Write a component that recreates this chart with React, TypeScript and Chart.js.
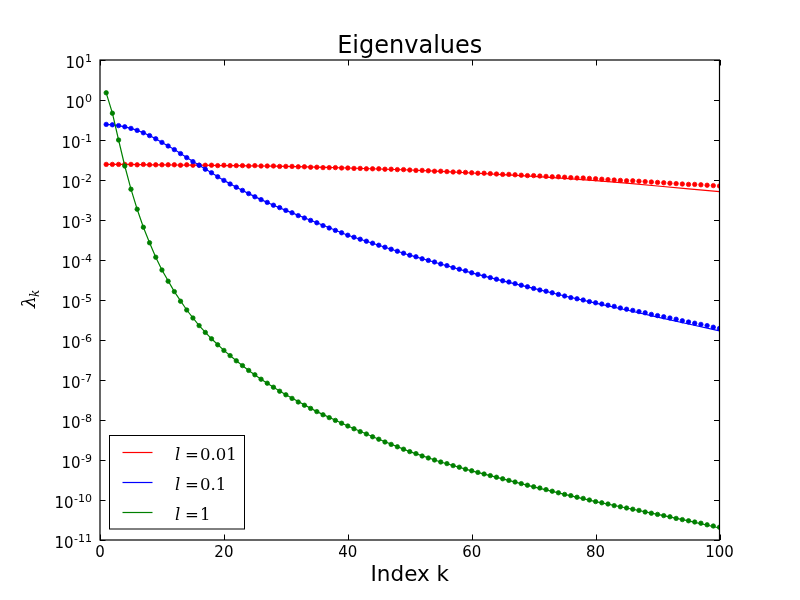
import React, { useEffect, useRef } from "react";
import { Chart, registerables } from "chart.js";

Chart.register(...registerables);

// eigenvalue index k (a dot sits on every integer k)
const K_DOTS = Array.from({ length: 100 }, (_, i) => i + 1);
const K_LINE = [
  1, 2, 3, 4, 5, 6, 7, 8, 9, 10, 12, 14, 16, 18, 20, 22, 24, 26, 28, 30, 35, 40, 45, 50, 55, 60, 65,
  70, 75, 80, 85, 90, 95, 100,
];

// log10(lambda_k), numerical eigenvalues (dots)
const RED_DOTS = [
  -1.61, -1.61, -1.61, -1.61, -1.61, -1.62, -1.61, -1.62, -1.62, -1.62,
  -1.62, -1.62, -1.63, -1.62, -1.63, -1.63, -1.63, -1.63, -1.64, -1.63,
  -1.64, -1.64, -1.64, -1.65, -1.64, -1.65, -1.65, -1.65, -1.66, -1.66,
  -1.66, -1.67, -1.67, -1.68, -1.68, -1.69, -1.69, -1.69, -1.7, -1.7,
  -1.71, -1.71, -1.72, -1.72, -1.72, -1.73, -1.73, -1.74, -1.74, -1.75,
  -1.76, -1.76, -1.77, -1.78, -1.78, -1.79, -1.8, -1.8, -1.81, -1.82,
  -1.83, -1.83, -1.84, -1.85, -1.86, -1.86, -1.87, -1.88, -1.89, -1.89,
  -1.9, -1.91, -1.92, -1.92, -1.93, -1.94, -1.95, -1.95, -1.96, -1.97,
  -1.98, -1.99, -2.0, -2.01, -2.02, -2.02, -2.03, -2.04, -2.05, -2.06,
  -2.07, -2.08, -2.09, -2.1, -2.11, -2.11, -2.12, -2.13, -2.14, -2.15,
];
const BLUE_DOTS = [
  -0.61, -0.62, -0.64, -0.67, -0.71, -0.76, -0.82, -0.89, -0.97, -1.06,
  -1.15, -1.24, -1.34, -1.44, -1.54, -1.63, -1.73, -1.82, -1.92, -2.01,
  -2.1, -2.18, -2.26, -2.34, -2.42, -2.49, -2.56, -2.63, -2.69, -2.76,
  -2.82, -2.89, -2.95, -3.01, -3.07, -3.14, -3.2, -3.26, -3.32, -3.38,
  -3.43, -3.48, -3.53, -3.58, -3.63, -3.68, -3.73, -3.78, -3.83, -3.88,
  -3.92, -3.97, -4.01, -4.05, -4.1, -4.14, -4.19, -4.23, -4.27, -4.32,
  -4.36, -4.4, -4.44, -4.48, -4.52, -4.55, -4.59, -4.63, -4.67, -4.71,
  -4.75, -4.78, -4.82, -4.86, -4.9, -4.94, -4.97, -5.0, -5.04, -5.07,
  -5.1, -5.13, -5.16, -5.2, -5.23, -5.26, -5.29, -5.32, -5.36, -5.39,
  -5.42, -5.45, -5.48, -5.52, -5.55, -5.58, -5.61, -5.64, -5.68, -5.71,
];
const GREEN_DOTS = [
  0.18, -0.33, -1.0, -1.65, -2.23, -2.73, -3.18, -3.57, -3.93, -4.25,
  -4.53, -4.79, -5.03, -5.25, -5.45, -5.64, -5.81, -5.97, -6.12, -6.26,
  -6.39, -6.52, -6.64, -6.76, -6.87, -6.98, -7.08, -7.18, -7.28, -7.37,
  -7.46, -7.55, -7.63, -7.71, -7.79, -7.87, -7.94, -8.01, -8.08, -8.15,
  -8.22, -8.29, -8.35, -8.42, -8.48, -8.55, -8.61, -8.67, -8.73, -8.79,
  -8.84, -8.9, -8.95, -9.0, -9.05, -9.09, -9.14, -9.18, -9.23, -9.27,
  -9.31, -9.35, -9.39, -9.43, -9.47, -9.51, -9.55, -9.59, -9.63, -9.67,
  -9.7, -9.74, -9.78, -9.82, -9.86, -9.89, -9.93, -9.96, -10.0, -10.04,
  -10.07, -10.1, -10.14, -10.17, -10.2, -10.23, -10.26, -10.3, -10.33, -10.36,
  -10.39, -10.42, -10.46, -10.49, -10.52, -10.55, -10.58, -10.62, -10.65, -10.68,
];

// log10(lambda_k), analytic curves at K_LINE
const RED_LINE = [
  -1.61, -1.61, -1.61, -1.61, -1.61, -1.615, -1.615, -1.62, -1.62, -1.62, -1.625, -1.63, -1.63,
  -1.635, -1.64, -1.64, -1.645, -1.65, -1.655, -1.66, -1.68, -1.7, -1.725, -1.75, -1.785, -1.825,
  -1.865, -1.91, -1.96, -2.015, -2.08, -2.15, -2.22, -2.29,
];
const BLUE_LINE = [
  -0.61, -0.62, -0.64, -0.67, -0.71, -0.76, -0.82, -0.89, -0.97, -1.06, -1.24, -1.44, -1.63, -1.82,
  -2.01, -2.18, -2.34, -2.49, -2.63, -2.76, -3.07, -3.38, -3.63, -3.88, -4.1, -4.32, -4.52, -4.71,
  -4.9, -5.08, -5.25, -5.43, -5.6, -5.77,
];
const GREEN_LINE = [
  0.18, -0.33, -1.0, -1.65, -2.23, -2.73, -3.18, -3.57, -3.93, -4.25, -4.79, -5.25, -5.64, -5.97,
  -6.26, -6.52, -6.76, -6.98, -7.18, -7.37, -7.79, -8.15, -8.48, -8.79, -9.05, -9.27, -9.47, -9.67,
  -9.86, -10.04, -10.2, -10.36, -10.52, -10.7,
];

const X_TICKS = [0, 20, 40, 60, 80, 100];
const Y_EXPONENTS = [1, 0, -1, -2, -3, -4, -5, -6, -7, -8, -9, -10, -11];
const LEGEND = [
  { value: "0.01", color: "#ff0000" },
  { value: "0.1", color: "#0000ff" },
  { value: "1", color: "#008000" },
];

const SANS = "'DejaVu Sans', sans-serif";
const SERIF = "'DejaVu Serif', serif";

function toPoints(ks: number[], logs: number[]) {
  return ks.map((k, i) => ({ x: k, y: Math.pow(10, logs[i]) }));
}

const decorations = {
  id: "decorations",
  afterDraw(chart: Chart) {
    const { ctx, chartArea: a } = chart;
    const xs = chart.scales.x;
    const ys = chart.scales.y;
    ctx.save();

    // frame
    ctx.strokeStyle = "#000";
    ctx.lineWidth = 1.2;
    ctx.strokeRect(a.left, a.top, a.right - a.left, a.bottom - a.top);

    // inward ticks on all four sides
    ctx.lineWidth = 1;
    ctx.beginPath();
    X_TICKS.forEach((v) => {
      const px = Math.round(xs.getPixelForValue(v)) + 0.5;
      ctx.moveTo(px, a.bottom);
      ctx.lineTo(px, a.bottom - 5.5);
      ctx.moveTo(px, a.top);
      ctx.lineTo(px, a.top + 5.5);
    });
    Y_EXPONENTS.forEach((e) => {
      const py = Math.round(ys.getPixelForValue(Math.pow(10, e))) + 0.5;
      ctx.moveTo(a.left, py);
      ctx.lineTo(a.left + 5.5, py);
      ctx.moveTo(a.right, py);
      ctx.lineTo(a.right - 5.5, py);
    });
    ctx.stroke();

    // x tick labels
    ctx.fillStyle = "#000";
    ctx.font = `15px ${SANS}`;
    ctx.textAlign = "center";
    ctx.textBaseline = "alphabetic";
    X_TICKS.forEach((v) => {
      ctx.fillText(String(v), xs.getPixelForValue(v), a.bottom + 17);
    });

    // y tick labels: 10 with a superscript exponent
    const right = a.left - 8;
    Y_EXPONENTS.forEach((e) => {
      const py = ys.getPixelForValue(Math.pow(10, e));
      const sup = e < 0 ? "-" + Math.abs(e) : String(e);
      ctx.font = `11px ${SANS}`;
      ctx.textAlign = "right";
      ctx.fillText(sup, right, py + 1.5);
      const supW = ctx.measureText(sup).width;
      ctx.font = `15px ${SANS}`;
      ctx.fillText("10", right - supW - 0.5, py + 7.5);
    });

    // title and x label
    const cx = (a.left + a.right) / 2;
    ctx.textAlign = "center";
    ctx.font = `24px ${SANS}`;
    ctx.fillText("Eigenvalues", cx, a.top - 7.5);
    ctx.font = `21.5px ${SANS}`;
    ctx.fillText("Index k", cx, a.bottom + 40.5);

    // y label lambda_k, rotated
    ctx.save();
    ctx.translate(34.5, 308);
    ctx.rotate(-Math.PI / 2);
    ctx.textAlign = "left";
    ctx.font = `italic 19px ${SERIF}`;
    ctx.fillText("λ", 0, 0);
    const lw = ctx.measureText("λ").width;
    ctx.font = `italic 12px ${SERIF}`;
    ctx.fillText("k", lw - 1, 4);
    ctx.restore();

    // legend
    const bx = 109.5;
    const by = 435.5;
    ctx.fillStyle = "#fff";
    ctx.fillRect(bx, by, 135, 93.5);
    ctx.strokeStyle = "#000";
    ctx.lineWidth = 1;
    ctx.strokeRect(bx, by, 135, 93.5);
    LEGEND.forEach((item, i) => {
      const ly = 452.5 + i * 30;
      ctx.strokeStyle = item.color;
      ctx.lineWidth = 1.2;
      ctx.beginPath();
      ctx.moveTo(122.5, ly);
      ctx.lineTo(152.5, ly);
      ctx.stroke();
      ctx.fillStyle = "#000";
      ctx.textAlign = "left";
      ctx.font = `italic 16.5px ${SERIF}`;
      ctx.fillText("l", 175, ly + 7);
      ctx.font = `16.5px ${SERIF}`;
      ctx.fillText("=", 185, ly + 7);
      ctx.fillText(item.value, 200, ly + 7);
    });

    ctx.restore();
  },
};

export default function App() {
  const canvasRef = useRef<HTMLCanvasElement>(null);

  useEffect(() => {
    document.body.style.margin = "0";
    if (!canvasRef.current) return;

    const dots = (logs: number[], color: string, order: number) => ({
      data: toPoints(K_DOTS, logs),
      showLine: false,
      pointRadius: 2.2,
      pointBorderWidth: 0.8,
      pointBackgroundColor: color,
      pointBorderColor: color,
      order,
    });
    const curve = (logs: number[], color: string, order: number) => ({
      data: toPoints(K_LINE, logs),
      showLine: true,
      borderColor: color,
      borderWidth: 1.2,
      pointRadius: 0,
      tension: 0,
      fill: false,
      order,
    });

    const chart = new Chart(canvasRef.current, {
      type: "scatter",
      data: {
        datasets: [
          dots(RED_DOTS, "#ff0000", 6),
          curve(RED_LINE, "#ff0000", 5),
          dots(BLUE_DOTS, "#0000ff", 4),
          curve(BLUE_LINE, "#0000ff", 3),
          dots(GREEN_DOTS, "#008000", 2),
          curve(GREEN_LINE, "#008000", 1),
        ] as any,
      },
      options: {
        animation: false,
        responsive: false,
        devicePixelRatio: 1,
        layout: { padding: { left: 0, top: 60, right: 80.5, bottom: 0 } },
        plugins: {
          legend: { display: false },
          title: { display: false },
          tooltip: { enabled: false },
        },
        scales: {
          x: {
            type: "linear",
            min: 0,
            max: 100,
            grid: { display: false },
            border: { display: false },
            ticks: { display: false },
            afterFit: (s: any) => {
              s.height = 60;
            },
          },
          y: {
            type: "logarithmic",
            min: 1e-11,
            max: 10,
            grid: { display: false },
            border: { display: false },
            ticks: { display: false },
            afterFit: (s: any) => {
              s.width = 100;
            },
          },
        },
      },
      plugins: [decorations],
    });

    return () => chart.destroy();
  }, []);

  return (
    <div style={{ width: 800, height: 600, background: "#fff" }}>
      <canvas ref={canvasRef} width={800} height={600} />
    </div>
  );
}
